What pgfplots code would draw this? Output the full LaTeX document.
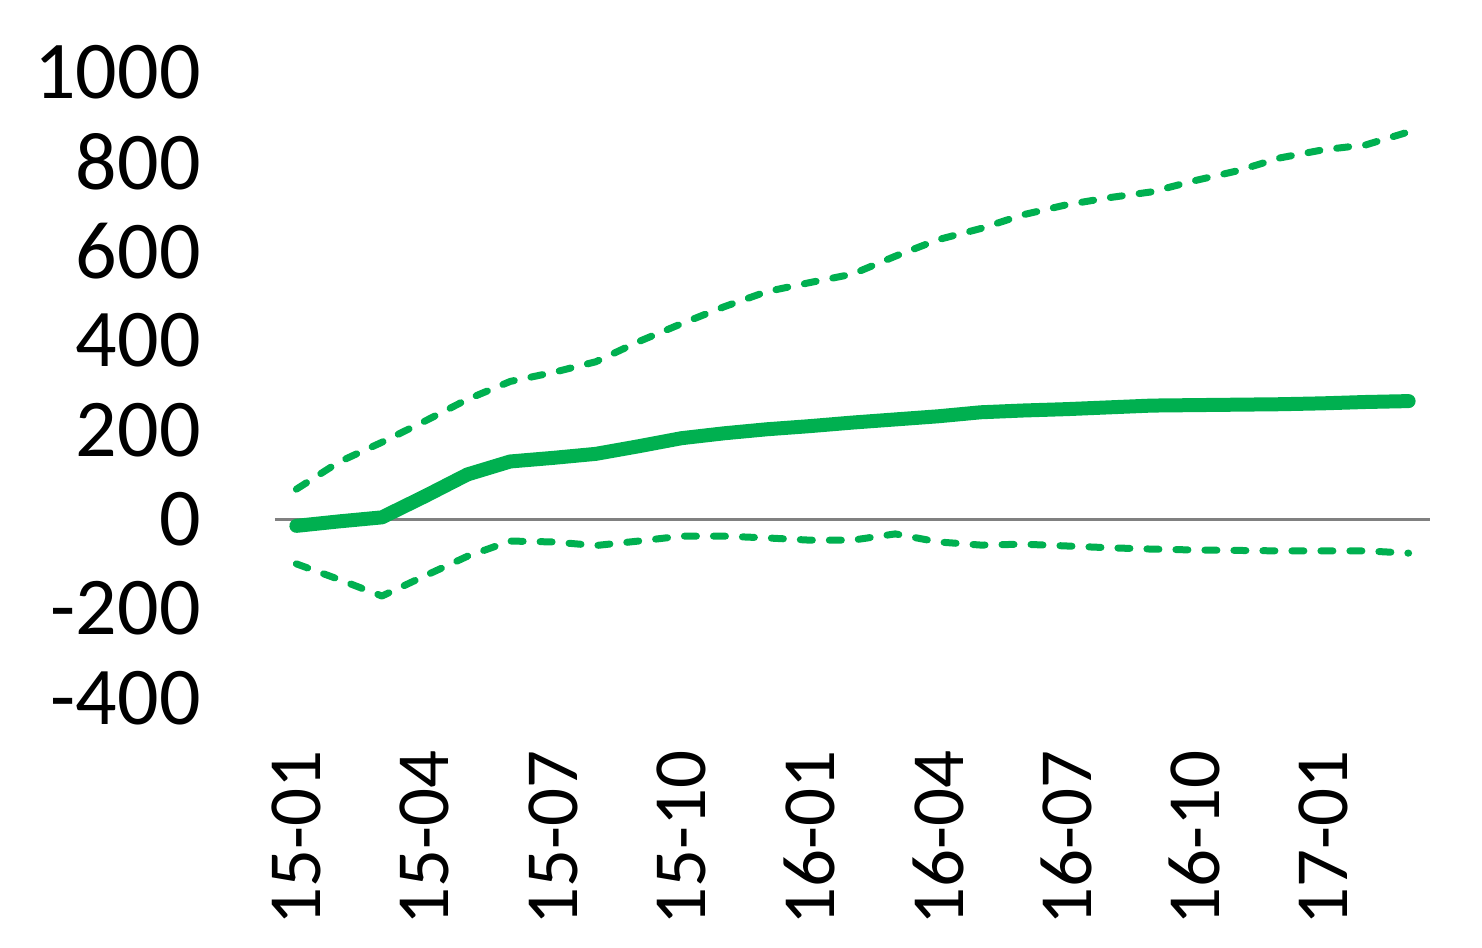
\documentclass[border=0pt]{standalone}
\usepackage{fontspec}
\setmainfont{Carlito}
\usepackage{pgfplots}
\pgfplotsset{compat=1.18}
\definecolor{exgreen}{HTML}{00B050}
\definecolor{zeroline}{HTML}{808080}

\begin{document}
\begin{tikzpicture}
\begin{axis}[
  at={(0,0)}, anchor=south west,
  scale only axis, width=577.5pt, height=313pt,
  xmin=-0.5, xmax=26.5, ymin=-400, ymax=1000,
  axis line style={draw=none},
  major tick length=0pt,
  xtick={0,3,...,24},
  xticklabels={15-01,15-04,15-07,15-10,16-01,16-04,16-07,16-10,17-01},
  ytick={-400,-200,0,200,400,600,800,1000},
  yticklabels={-400,-200,0,200,400,600,800,1000},
  xticklabel style={rotate=90, anchor=east, inner sep=0pt, font=\fontsize{37.5}{40}\selectfont},
  yticklabel style={anchor=east, inner sep=0pt, font=\fontsize{41}{44}\selectfont},
  xticklabel shift=26pt,
  yticklabel shift=37pt,
  clip=false,
]
% zero line
\addplot[zeroline, line width=1.5pt] coordinates {(-0.5,0) (26.5,0)};
% upper bound
\addplot[exgreen, line width=3.5pt, line cap=round, line join=round, dash pattern=on 6pt off 8.5pt] coordinates {
(0,67) (1,128) (2,172) (3,219) (4,268) (5,308) (6,328) (7,352) (8,397) (9,437)
(10,475) (11,509) (12,529) (13,548) (14,588) (15,625) (16,650) (17,681) (18,703)
(19,719) (20,732) (21,757) (22,779) (23,808) (24,826) (25,837) (26,866)};
% lower bound
\addplot[exgreen, line width=3.5pt, line cap=round, line join=round, dash pattern=on 6pt off 8.5pt] coordinates {
(0,-100) (1,-135) (2,-172) (3,-127) (4,-83) (5,-49) (6,-51) (7,-59) (8,-49) (9,-38)
(10,-38) (11,-42) (12,-47) (13,-47) (14,-33) (15,-51) (16,-58) (17,-56) (18,-60)
(19,-64) (20,-67) (21,-69) (22,-70) (23,-71) (24,-71) (25,-71) (26,-76)};
% central estimate
\addplot[exgreen, line width=7pt, line cap=round, line join=round] coordinates {
(0,-15) (1,-5) (2,4) (3,51) (4,100) (5,129) (6,137) (7,146) (8,163) (9,181)
(10,192) (11,201) (12,208) (13,216) (14,223) (15,230) (16,239) (17,243) (18,246)
(19,250) (20,254) (21,255) (22,256) (23,257) (24,259) (25,262) (26,264)};
\end{axis}
\path (current axis.south west) ++(-137.5pt,-124.5pt) rectangle ++(741pt,473.5pt);
\end{tikzpicture}
\end{document}
